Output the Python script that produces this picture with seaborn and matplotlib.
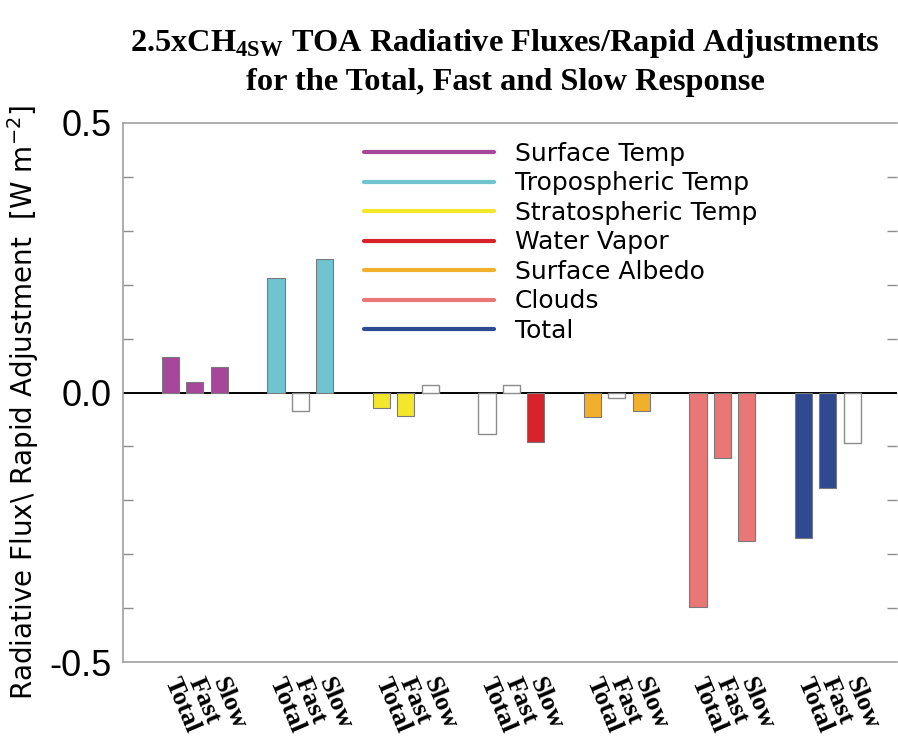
import numpy as np
import pandas as pd
import matplotlib
matplotlib.use("Agg")
import matplotlib.pyplot as plt
import seaborn as sns
from matplotlib.ticker import MultipleLocator, FixedLocator
from matplotlib.lines import Line2D

# ---- data -------------------------------------------------------------
components = ["Surface Temp", "Tropospheric Temp", "Stratospheric Temp",
              "Water Vapor", "Surface Albedo", "Clouds", "Total"]
responses = ["Total", "Fast", "Slow"]
colors = ["#a6479a", "#6fc4cf", "#f4e62b", "#d8232d", "#f1b02b", "#e87775", "#2f4a91"]

total_resp = [0.066, 0.213, -0.029, -0.077, -0.046, -0.398, -0.270]
fast_resp = [0.019, -0.035, -0.043, 0.0135, -0.011, -0.122, -0.177]
slow_resp = [0.047, 0.247, 0.0135, -0.0915, -0.035, -0.275, -0.093]

# bars drawn hollow (white fill) instead of in the component colour
hollow_total = [False, False, False, True, False, False, False]
hollow_fast = [False, True, False, True, True, False, False]
hollow_slow = [False, False, True, False, False, False, True]

# ---- table ------------------------------------------------------------
group_step = 4.342
rows = []
for g, comp in enumerate(components):
    vals = [total_resp[g], fast_resp[g], slow_resp[g]]
    holl = [hollow_total[g], hollow_fast[g], hollow_slow[g]]
    for k, resp in enumerate(responses):
        rows.append(dict(pos=g * group_step + k, value=vals[k], component=comp,
                         response=resp, hollow=holl[k]))
df = pd.DataFrame(rows)

sns.set_theme(style="white")
plt.rcParams["font.family"] = ["DejaVu Sans"]
plt.rcParams["text.color"] = "black"
plt.rcParams["axes.labelcolor"] = "black"
plt.rcParams["xtick.color"] = "black"
plt.rcParams["ytick.color"] = "black"

fig = plt.figure(figsize=(8.98, 7.45), dpi=100)
ax = fig.add_axes([123 / 898, 83 / 745, 774 / 898, 539 / 745])

palette = dict(zip(components, colors))
filled = df[~df.hollow]
hollow = df[df.hollow]
sns.barplot(data=filled, x="pos", y="value", hue="component", palette=palette,
            hue_order=components, native_scale=True, dodge=False, width=0.7,
            saturation=1, edgecolor="#7a7a7a", linewidth=0.8, legend=False, ax=ax,
            errorbar=None)
sns.barplot(data=hollow, x="pos", y="value", color="white",
            native_scale=True, width=0.7, saturation=1,
            edgecolor="#8c8c8c", linewidth=1.0, legend=False, ax=ax,
            errorbar=None)

ax.axhline(0, color="black", lw=1.4, zorder=0.5)

# ---- axes -------------------------------------------------------------
ax.set_xlim(-1.955, 29.9)
ax.set_ylim(-0.5, 0.5)
for s in ax.spines.values():
    s.set_color("#a0a0a0")
    s.set_linewidth(1.2)
ax.spines["right"].set_visible(False)

ax.yaxis.set_major_locator(FixedLocator([-0.5, 0.0, 0.5]))
ax.yaxis.set_minor_locator(MultipleLocator(0.1))
ax.set_yticklabels(["-0.5", "0.0", "0.5"],
                   fontdict=dict(family=["Liberation Sans Narrow", "Liberation Sans"],
                                 size=26))
ax.tick_params(axis="y", which="both", direction="in", left=True, right=True,
               color="#8c8c8c", width=1.0, pad=8)
ax.tick_params(axis="y", which="major", length=0)
ax.tick_params(axis="y", which="minor", length=7)

ax.set_xticks(df["pos"].to_numpy())
ax.set_xticklabels(df["response"], rotation=-67, ha="left", va="center",
                   rotation_mode="anchor",
                   fontdict=dict(family="Liberation Serif", weight="bold", size=19))
ax.tick_params(axis="x", length=0, pad=12)
ax.set_xlabel("")

ax.set_ylabel(r"Radiative Flux\ Rapid Adjustment  [W m$^{-2}$]", fontsize=20)
ax.yaxis.set_label_coords(-0.106, 0.482)

# ---- legend -----------------------------------------------------------
handles = [Line2D([0], [0], color=c, lw=3) for c in colors]
ax.legend(handles, components, loc="upper left", bbox_to_anchor=(0.311, 0.965),
          frameon=False, fontsize=18, handlelength=5.2, handletextpad=0.85,
          labelspacing=0.22, borderpad=0, borderaxespad=0)

# ---- title ------------------------------------------------------------
title_font = dict(family="Liberation Serif", weight="bold", size=23.3, color="black")
fig.text(505 / 898, 1 - 51 / 745,
         r"2.5xCH$_\mathregular{4SW}$ TOA Radiative Fluxes/Rapid Adjustments",
         ha="center", va="baseline", **title_font)
fig.text(505 / 898, 1 - 90 / 745, "for the Total, Fast and Slow Response",
         ha="center", va="baseline", **title_font)

fig.savefig("out.png", dpi=100)
